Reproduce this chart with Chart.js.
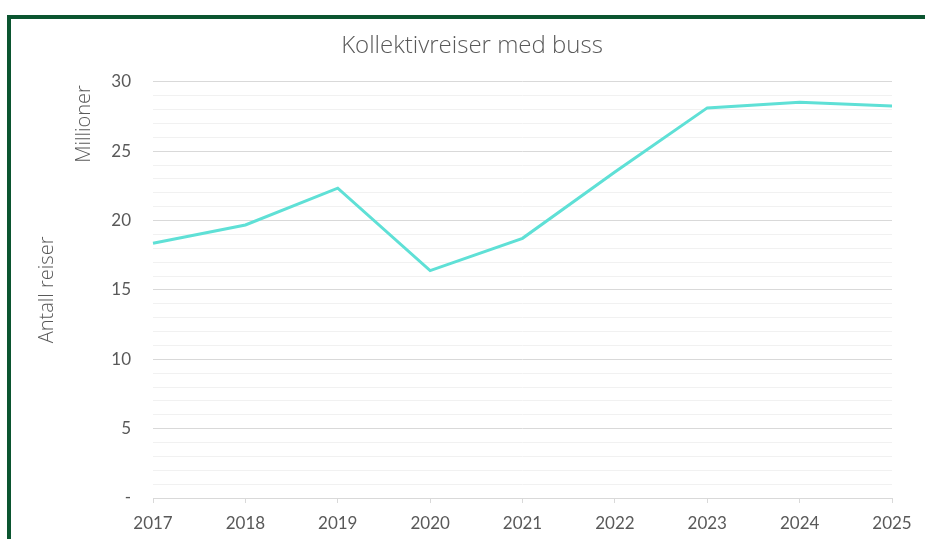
<!DOCTYPE html>
<html lang="no">
<head>
<meta charset="UTF-8">
<title>Kollektivreiser med buss</title>
<style>
  html, body { margin: 0; padding: 0; background: #fff; overflow: hidden; }
  #wrap { position: relative; width: 925px; height: 539px; }
  #frame {
    position: absolute; left: 7px; top: 15px; right: -10px; bottom: -10px;
    border-left: 4px solid #0b5530; border-top: 4px solid #0b5530;
    pointer-events: none;
  }
</style>
</head>
<body>
<div id="wrap">
  <canvas id="canvas" width="925" height="539"></canvas>
  <div id="frame"></div>
</div>
<script src="https://cdn.jsdelivr.net/npm/chart.js@4/dist/chart.umd.min.js"></script>
<script>
'use strict';

// data (millions of trips)
var years = ['2017', '2018', '2019', '2020', '2021', '2022', '2023', '2024', '2025'];
var trips = [18.36, 19.68, 22.33, 16.39, 18.72, 23.5, 28.12, 28.53, 28.26];

var GREY = '#595959';
var FONT = "Lato, 'Open Sans', sans-serif";
var TITLE_FONT = "'Open Sans', Lato, sans-serif";

// rotated axis texts on the left side
var sideLabels = {
  id: 'sideLabels',
  afterDraw: function(chart) {
    var ctx = chart.ctx;
    var area = chart.chartArea;
    ctx.save();
    ctx.fillStyle = GREY;
    ctx.font = '300 20px ' + TITLE_FONT;
    ctx.textAlign = 'center';
    ctx.textBaseline = 'middle';

    ctx.save();
    ctx.translate(84, 124);
    ctx.rotate(-Math.PI / 2);
    ctx.fillText('Millioner', 0, 0);
    ctx.restore();

    ctx.translate(47, (area.top + area.bottom) / 2);
    ctx.rotate(-Math.PI / 2);
    ctx.fillText('Antall reiser', 0, 0);
    ctx.restore();
  }
};

var config = {
  type: 'line',
  data: {
    labels: years,
    datasets: [{
      label: 'Kollektivreiser med buss',
      data: trips,
      borderColor: '#5fe0d6',
      backgroundColor: '#5fe0d6',
      borderWidth: 3,
      pointRadius: 0,
      tension: 0,
      fill: false
    }]
  },
  options: {
    responsive: false,
    animation: false,
    layout: {
      padding: { left: 52, right: 33, top: 0, bottom: 0 }
    },
    plugins: {
      legend: { display: false },
      tooltip: { enabled: false },
      title: {
        display: true,
        text: 'Kollektivreiser med buss',
        color: GREY,
        font: { family: TITLE_FONT, size: 24, weight: '300' },
        padding: { top: 32, bottom: 21 }
      }
    },
    scales: {
      x: {
        grid: {
          drawOnChartArea: false,
          drawTicks: true,
          tickLength: 5,
          color: '#d9d9d9'
        },
        border: { color: '#d9d9d9' },
        ticks: {
          color: GREY,
          font: { family: FONT, size: 17 },
          padding: 10,
          maxRotation: 0
        },
        afterFit: function(scale) { scale.height = 41; }
      },
      y: {
        min: 0,
        max: 30,
        grid: {
          drawTicks: false,
          color: function(c) {
            return c.tick && c.tick.value % 5 === 0 ? '#d9d9d9' : '#f1f1f1';
          }
        },
        border: { display: false },
        ticks: {
          stepSize: 1,
          autoSkip: false,
          color: GREY,
          font: { family: FONT, size: 17 },
          padding: 22,
          callback: function(v) {
            if (v === 0) return '-';
            return v % 5 === 0 ? v : '';
          }
        },
        afterFit: function(scale) { scale.width = 101; }
      }
    }
  },
  plugins: [sideLabels]
};

var ctx = document.getElementById('canvas').getContext('2d');
var busChart = new Chart(ctx, config);
</script>
</body>
</html>
